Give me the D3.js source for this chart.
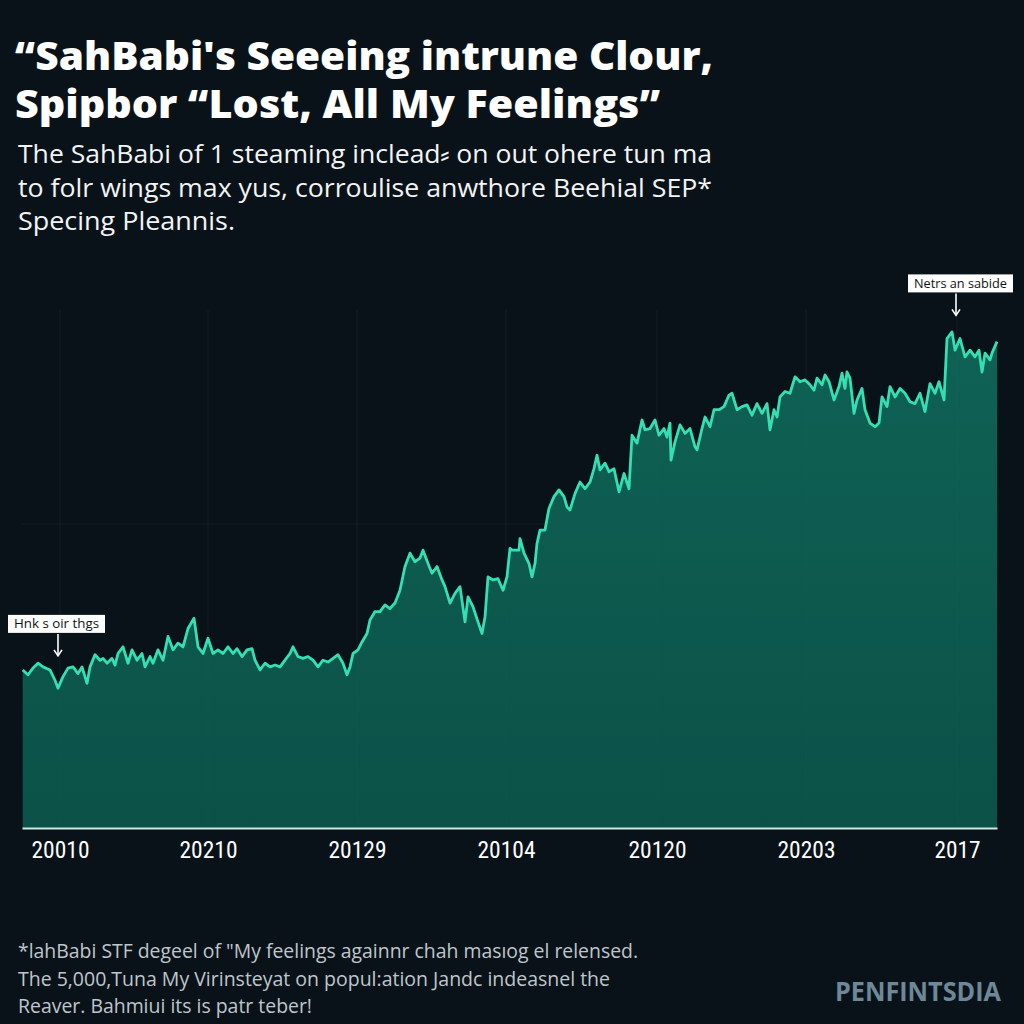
<!DOCTYPE html>
<html>
<head>
<meta charset="utf-8">
<script src="https://cdn.jsdelivr.net/npm/d3@7/dist/d3.min.js"></script>
<style>
  html, body { margin: 0; padding: 0; background: #0a1219; }
  svg { display: block; }
</style>
</head>
<body>
<svg id="chart" width="1024" height="1024"></svg>
<script>
// ---- data ----
const titleLines = ["“SahBabi's Seeeing intrune Clour,", "Spipbor “Lost, All My Feelings”"];
const subtitleLines = [
  "The SahBabi of 1 steaming inclead⸗ on out ohere tun ma",
  "to folr wings max yus, corroulise anwthore Beehial SEP*",
  "Specing Pleannis."
];
const footLines = [
  "*lahBabi STF degeel of \"My feelings againnr chah masıog el relensed.",
  "The 5,000,Tuna My Virinsteyat on popul:ation Jandc indeasnel the",
  "Reaver. Bahmiui its is patr teber!"
];
const tickLabels = ["20010", "20210", "20129", "20104", "20120", "20203", "2017"];
const tickPositions = [38, 186, 335, 484, 635, 784, 935];
const gridValues = [50];

// series: time index (days)
const times = [0.7,6,11,16,21,28,33,36,41,46,51,56,60,65,68,73,78,81,85,90,93,96,101,106,110,115,120,123,128,131,136,141,146,151,156,161,166,172,176,181,186,191,196,201,206,211,215,220,225,230,233,238,243,248,253,258,263,268,271,276,281,286,291,296,301,306,311,316,321,325,328,331,336,340,345,348,353,358,363,368,373,378,383,388,393,398,401,406,410,415,420,423,428,433,438,443,446,451,456,460,463,466,471,476,481,485,488,
490,497,498,502,507,510,513,515,518,523,527,532,537,542,545,548,553,558,563,568,572,575,578,583,587,592,597,602,607,610,615,620,623,628,633,637,642,645,648,649,653,658,663,668,673,675,680,683,688,692,697,702,707,710,715,720,725,730,735,740,745,748,752,755,758,763,768,773,778,783,788,792,795,800,803,807,812,817,820,823,825,828,832,835,840,843,848,853,857,860,865,868,873,878,883,888,893,898,903,908,913,917,922,925,930,933,938,943,948,953,957,960,963,968,970,975];
// series: streaming value
const values = [26.0,25.2,26.3,27.1,26.5,26.0,24.3,23.0,24.9,26.3,26.5,25.4,26.5,23.8,26.5,28.5,27.6,27.9,27.1,27.9,26.8,28.7,29.8,27.1,29.3,27.6,28.7,26.5,28.2,27.1,29.3,27.6,31.5,29.3,30.4,29.8,32.8,34.5,29.8,28.7,31.2,28.7,29.3,28.7,29.8,28.7,29.5,28.2,29.3,29.5,27.6,26.0,27.1,26.5,26.8,26.5,27.6,28.7,29.8,28.2,27.9,28.2,27.6,26.5,27.6,27.3,27.9,28.5,27.1,25.2,26.5,28.7,29.3,30.6,32.0,34.2,35.6,35.6,36.7,36.1,37.0,39.1,43.0,45.2,43.8,44.4,45.7,43.5,41.9,43.0,40.8,39.7,37.0,38.6,39.7,33.9,38.0,36.4,33.9,32.0,34.7,41.3,40.8,41.0,39.1,41.3,46.0,
45.7,45.7,47.6,45.2,43.5,41.3,43.5,46.8,49.0,49.0,52.6,54.5,55.6,54.5,52.8,52.3,55.0,56.9,55.8,56.9,59.1,61.3,58.9,60.0,58.6,59.1,55.3,58.3,55.8,64.6,63.3,67.1,65.5,65.7,67.1,64.6,65.7,64.3,66.6,60.5,63.5,66.3,64.9,65.7,62.7,62.2,65.7,67.6,66.0,68.8,68.8,69.3,71.2,71.5,68.8,69.3,69.6,67.9,69.8,68.2,69.8,65.5,68.8,67.6,70.9,71.8,71.5,74.2,73.4,73.7,72.9,72.0,74.0,72.9,74.5,73.4,70.4,72.6,74.8,72.3,75.0,74.0,68.2,70.4,72.3,68.8,66.6,66.0,66.6,70.9,69.3,72.6,70.9,72.3,71.5,70.1,69.8,71.5,68.5,73.1,71.5,73.4,70.4,80.5,81.6,78.6,80.5,77.5,78.6,77.5,78.6,75.0,78.1,77.0,78.1,80.0];

const annotations = [
  { label: "Hnk s oir thgs", t: 36, v: 26.5, box: "left" },
  { label: "Netrs an sabide", t: 934, v: 82.5, box: "right" }
];

// ---- layout ----
const svg = d3.select("#chart");
const W = 1024, H = 1024;
const plot = { left: 22, right: 997, top: 310, bottom: 828 };

svg.append("rect").attr("width", W).attr("height", H).attr("fill", "#0a1219");

const x = d3.scaleLinear().domain([0, 975]).range([plot.left, plot.right]);
const y = d3.scaleLinear().domain([0, 100]).range([plot.bottom, 220]);

const series = times.map((t, i) => ({ t, v: values[i] }));

// gradient
const defs = svg.append("defs");
const grad = defs.append("linearGradient").attr("id", "areaGrad")
  .attr("x1", 0).attr("y1", 0).attr("x2", 0).attr("y2", 1);
grad.append("stop").attr("offset", "0%").attr("stop-color", "#0f6255");
grad.append("stop").attr("offset", "100%").attr("stop-color", "#0b5148");

// gridlines
const grid = svg.append("g");
grid.selectAll("line.v").data(tickPositions).join("line")
  .attr("x1", d => x(d)).attr("x2", d => x(d))
  .attr("y1", plot.top).attr("y2", plot.bottom)
  .attr("stroke", "#ffffff").attr("stroke-opacity", 0.045).attr("stroke-width", 1);
grid.selectAll("line.h").data(gridValues).join("line")
  .attr("x1", plot.left).attr("x2", plot.right)
  .attr("y1", d => y(d)).attr("y2", d => y(d))
  .attr("stroke", "#ffffff").attr("stroke-opacity", 0.05).attr("stroke-width", 1);

// area + line
const area = d3.area().x(d => x(d.t)).y0(y(0)).y1(d => y(d.v)).curve(d3.curveLinear);
const line = d3.line().x(d => x(d.t)).y(d => y(d.v)).curve(d3.curveLinear);

svg.append("path").datum(series).attr("d", area).attr("fill", "url(#areaGrad)");
svg.append("path").datum(series).attr("d", line)
  .attr("fill", "none").attr("stroke", "#34e0b3").attr("stroke-width", 2.8)
  .attr("stroke-linejoin", "round");

// faint gridlines over the area
const grid2 = svg.append("g");
grid2.selectAll("line").data(tickPositions).join("line")
  .attr("x1", d => x(d)).attr("x2", d => x(d))
  .attr("y1", plot.top).attr("y2", plot.bottom)
  .attr("stroke", "#ffffff").attr("stroke-opacity", 0.02);

// x axis
const xAxis = d3.axisBottom(x).tickValues(tickPositions)
  .tickFormat((d, i) => tickLabels[i]).tickSize(0).tickPadding(14);
const ax = svg.append("g").attr("transform", `translate(0,${plot.bottom})`).call(xAxis);
ax.select(".domain").attr("stroke", "#cde9e2").attr("stroke-width", 2.2);
ax.selectAll("text").attr("fill", "#ffffff")
  .style("font-family", "'Liberation Sans Narrow', 'Roboto Condensed', Roboto, sans-serif")
  .style("font-weight", 400)
  .style("font-size", "23px").attr("dy", "0.71em");
ax.selectAll(".tick text").each(function() {
  d3.select(this).attr("textLength", 58).attr("lengthAdjust", "spacingAndGlyphs");
});
ax.selectAll(".tick:last-child text").attr("textLength", 46);

// annotations
annotations.forEach(a => {
  const px = x(a.t), py = y(a.v);
  const g = svg.append("g");
  const bw = a.box === "left" ? 97 : 105, bh = 18;
  const bx = a.box === "left" ? 8 : 908;
  const by = py - 38 - bh + 4;
  g.append("rect").attr("x", bx).attr("y", by).attr("width", bw).attr("height", bh)
    .attr("fill", "#ffffff");
  g.append("text").attr("x", bx + bw / 2).attr("y", by + 13.5).attr("text-anchor", "middle")
    .attr("fill", "#111").style("font-family", "'Open Sans', sans-serif").style("font-size", "13px")
    .attr("textLength", bw - 12).attr("lengthAdjust", "spacingAndGlyphs")
    .text(a.label);
  const ay0 = by + bh + 1, ay1 = py - 12;
  g.append("line").attr("x1", px).attr("x2", px).attr("y1", ay0).attr("y2", ay1)
    .attr("stroke", "#ffffff").attr("stroke-width", 1.6);
  g.append("path").attr("d", `M${px - 4},${ay1 - 5} L${px},${ay1 + 1} L${px + 4},${ay1 - 5}`)
    .attr("fill", "none").attr("stroke", "#ffffff").attr("stroke-width", 1.6);
});

// title
const title = svg.append("g");
const titleBase = [70, 118];
const titleWidths = [698, 645];
titleLines.forEach((t, i) => {
  title.append("text").attr("x", 15).attr("y", titleBase[i])
    .attr("fill", "#ffffff")
    .style("font-family", "'Open Sans', Lato, sans-serif").style("font-weight", 800)
    .style("font-size", "39px")
    .attr("textLength", titleWidths[i]).attr("lengthAdjust", "spacingAndGlyphs")
    .text(t);
});

// subtitle
const subBase = [163, 197, 230];
const subWidths = [694, 694, 217];
subtitleLines.forEach((t, i) => {
  svg.append("text").attr("x", 18).attr("y", subBase[i])
    .attr("fill", "#f2f4f5")
    .style("font-family", "'Open Sans', sans-serif").style("font-size", "26px")
    .attr("textLength", subWidths[i]).attr("lengthAdjust", "spacingAndGlyphs")
    .text(t);
});

// footnote
const footBase = [958, 986, 1013];
const footWidths = [620, 592, 294];
footLines.forEach((t, i) => {
  svg.append("text").attr("x", 18).attr("y", footBase[i])
    .attr("fill", "#bfc6cb")
    .style("font-family", "'Open Sans', sans-serif").style("font-size", "20px")
    .attr("textLength", footWidths[i]).attr("lengthAdjust", "spacingAndGlyphs")
    .text(t);
});

// watermark
svg.append("text").attr("x", 835).attr("y", 1001)
  .attr("fill", "#6d8898")
  .style("font-family", "'Open Sans', sans-serif").style("font-weight", 700)
  .style("font-size", "26px")
  .attr("textLength", 166).attr("lengthAdjust", "spacingAndGlyphs")
  .text("PENFINTSDIA");
</script>
</body>
</html>
